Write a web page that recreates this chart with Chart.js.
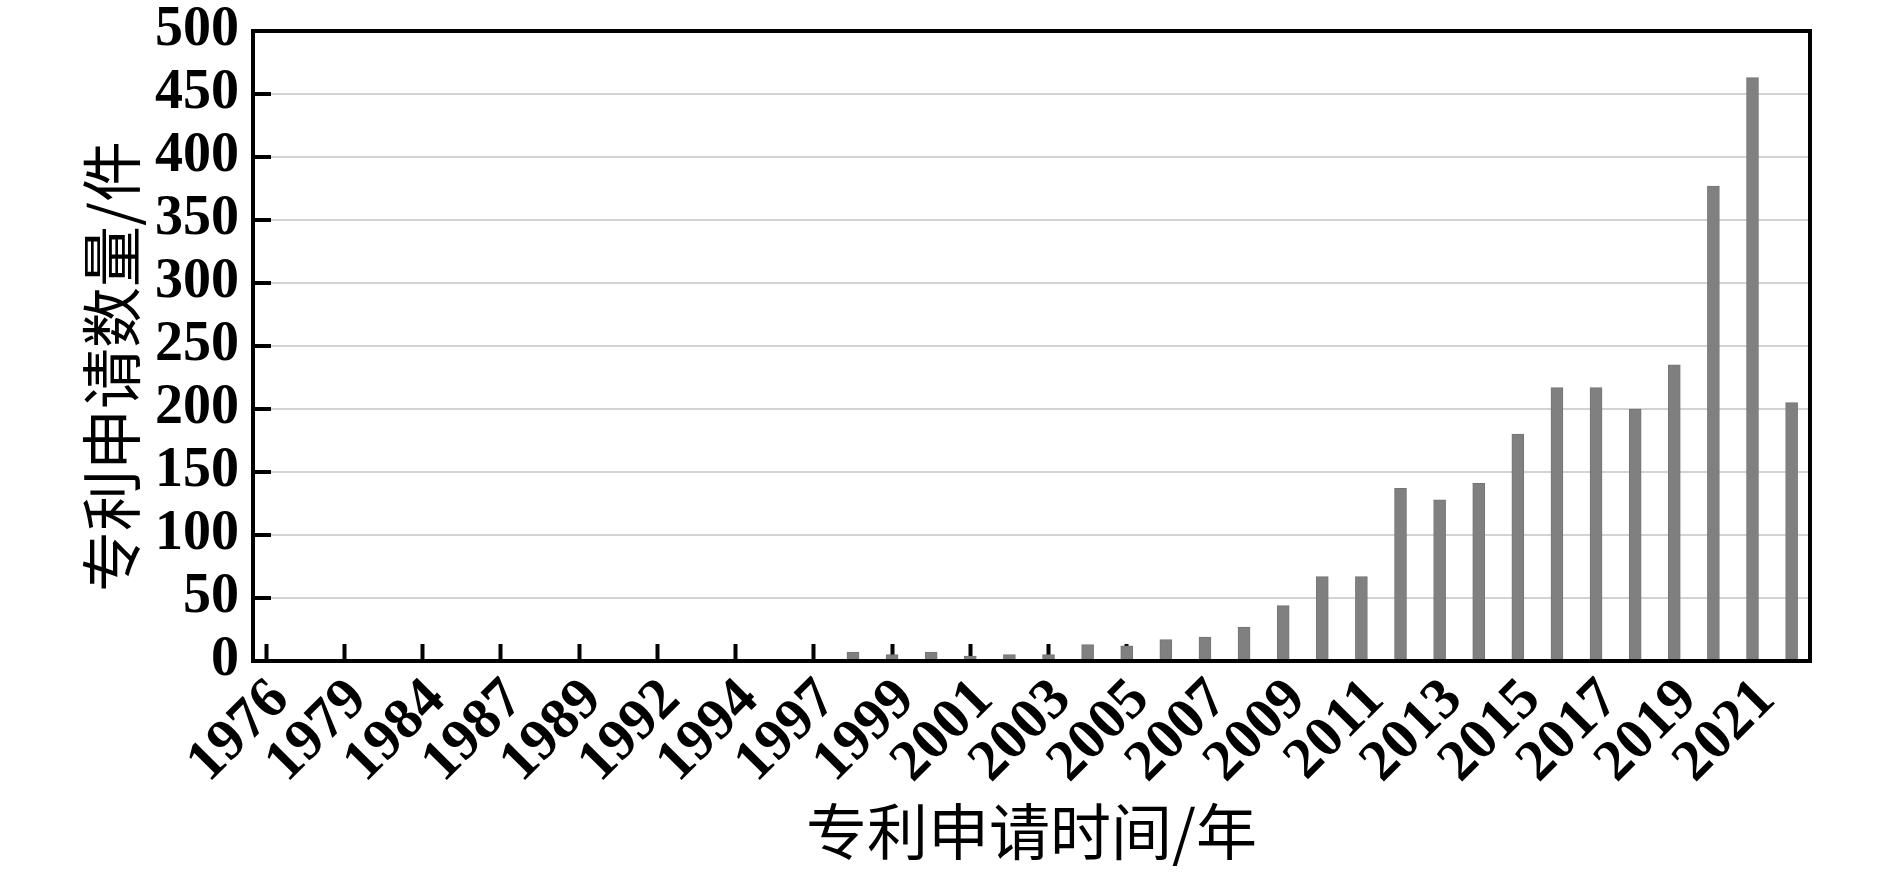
<!DOCTYPE html>
<html><head><meta charset="utf-8">
<script src="https://cdn.jsdelivr.net/npm/chart.js@4.4.1/dist/chart.umd.min.js"></script>
<style>html,body{margin:0;padding:0;background:#fff;overflow:hidden}</style>
</head><body>
<canvas id="c" width="1890" height="874"></canvas>
<script>
// Categories (application years present in the data)
const years = ['1976','1978','1979','1982','1984','1985','1987','1988','1989','1990','1992','1993','1994','1995',
  '1997','1998','1999','2000','2001','2002','2003','2004','2005','2006','2007','2008','2009','2010','2011',
  '2012','2013','2014','2015','2016','2017','2018','2019','2020','2021','2022'];
// Patent application counts
const counts = [0,1,0,1,1,0,0,0,0,1,1,1,1,0,
  1,7,5,7,4,5,5,13,12,17,19,27,44,67,67,
  137,128,141,180,217,217,200,235,377,463,205];
// Y tick values
const yTickValues = [0,50,100,150,200,250,300,350,400,450,500];
// Labelled x ticks: every other category
const xTickIndices = years.map((_, i) => i).filter(i => i % 2 === 0);
const xTitle = '专利申请时间/年';
const yTitle = '专利申请数量/件   ';

const frame = {
  id: 'frame',
  afterDraw(chart) {
    const {ctx, chartArea: a} = chart;
    ctx.save();
    ctx.strokeStyle = '#000';
    ctx.lineWidth = 4;
    ctx.strokeRect(a.left, a.top, a.right - a.left, a.bottom - a.top);
    ctx.restore();
  }
};

const points = counts.map((v, i) => ({x: i, y: v}));

new Chart(document.getElementById('c'), {
  type: 'bar',
  data: {
    datasets: [{
      data: points,
      backgroundColor: '#808080',
      borderColor: '#747474',
      borderWidth: 1,
      barThickness: 12
    }]
  },
  options: {
    responsive: false,
    animation: false,
    devicePixelRatio: 1,
    layout: {padding: {left: 0, right: 80, top: 31, bottom: 0}},
    plugins: {legend: {display: false}, tooltip: {enabled: false}},
    scales: {
      x: {
        type: 'linear',
        min: -0.34,
        max: 39.47,
        offset: false,
        afterBuildTicks(s) { s.ticks = xTickIndices.map(v => ({value: v})); },
        grid: {
          display: true,
          offset: false,
          drawOnChartArea: false,
          drawTicks: true,
          tickLength: -17,
          tickWidth: 4,
          tickColor: '#000'
        },
        border: {display: true, color: '#000', width: 4},
        ticks: {
          autoSkip: false,
          minRotation: 45,
          maxRotation: 45,
          padding: 22,
          labelOffset: 14,
          color: '#000',
          font: {family: 'Liberation Serif', weight: 'bold', size: 58},
          callback: (v) => years[v]
        },
        title: {
          display: true, text: xTitle, color: '#000',
          font: {family: 'Noto Sans CJK SC', size: 61},
          padding: {top: 0, bottom: 6}
        },
        afterFit(s) { s.height = 213; s.paddingLeft = 0; s.paddingRight = 0; }
      },
      y: {
        min: 0, max: 500,
        afterBuildTicks(s) { s.ticks = yTickValues.map(v => ({value: v})); },
        ticks: {
          padding: 32,
          color: '#000',
          font: {family: 'Liberation Serif', weight: 'bold', size: 56, lineHeight: 1}
        },
        grid: {
          color: '#d3d3d3', lineWidth: 2,
          drawTicks: true, tickLength: -18, tickWidth: 4, tickColor: '#000'
        },
        border: {display: true, color: '#000', width: 4},
        title: {
          display: true, text: yTitle, color: '#000',
          font: {family: 'Noto Sans CJK SC', size: 61},
          padding: {top: 75, bottom: 0}
        },
        afterFit(s) { s.width = 253; s.paddingTop = 0; s.paddingBottom = 0; }
      }
    }
  },
  plugins: [frame]
});
</script>
</body></html>
